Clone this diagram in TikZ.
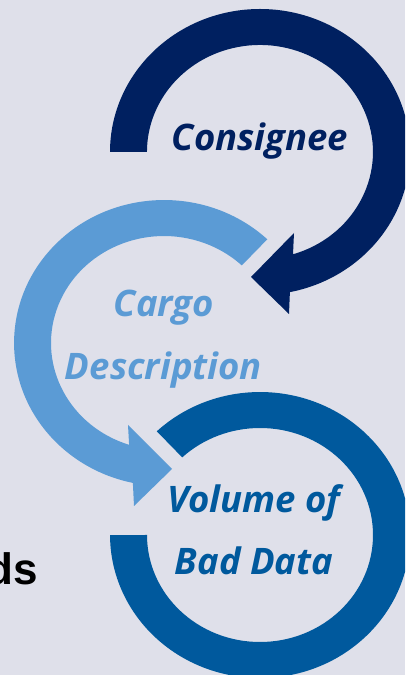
\documentclass[tikz,border=0pt]{standalone}
\usepackage{fontspec}
\newfontfamily\osans{Open Sans}
\newfontfamily\arialb{Liberation Sans}
\definecolor{bgc}{HTML}{DFE0EA}
\definecolor{navy}{HTML}{002060}
\definecolor{lblue}{HTML}{5B9BD5}
\definecolor{mblue}{HTML}{00599D}
\tikzset{
  lbl/.style={anchor=base, inner sep=0pt, font=\osans\bfseries\itshape\fontsize{36.5}{42}\selectfont},
}
\begin{document}
\begin{tikzpicture}[x=1pt,y=1pt]
\useasboundingbox (0,0) rectangle (405,675);
\clip (0,0) rectangle (405,675);
\fill[bgc] (0,0) rectangle (405,675);
% top ring (navy), center (260,523)
\fill[navy] (110,523) arc[start angle=180, end angle=-78.5, x radius=150, y radius=143]
  -- (289,361) -- (251,398) -- (294,442) -- (293,420.7)
  arc[start angle=-73, end angle=180, x radius=113, y radius=107] -- cycle;
% middle ring (light blue), center (164,332)
\fill[lblue] (267.3,435.7) arc[start angle=46.5, end angle=258, x radius=150, y radius=143]
  -- (134,169) -- (172,206) -- (128,250) -- (129.1,230.2)
  arc[start angle=252, end angle=46.5, x radius=113, y radius=107] -- cycle;
% bottom ring (medium blue), center (260,140)
\fill[mblue] (156.8,243.7) arc[start angle=133.5, end angle=-180, x radius=150, y radius=143]
  -- (147,140) arc[start angle=-180, end angle=133.5, x radius=113, y radius=107] -- cycle;
% texts
\node[lbl, text=navy] (cons) at (260,524) {Consignee};
\node[lbl, text=lblue] (cargo) at (164,358) {Cargo};
\node[lbl, text=lblue] (desc) at (163.5,295) {Description};
\node[lbl, text=mblue] (vol) at (254,162) {Volume of};
\node[lbl, text=mblue] (bad) at (254,100) {Bad Data};
\node[anchor=base east, inner sep=0pt, font=\arialb\bfseries\fontsize{44}{50}\selectfont] (ds) at (38,90) {ds};
\end{tikzpicture}
\end{document}
